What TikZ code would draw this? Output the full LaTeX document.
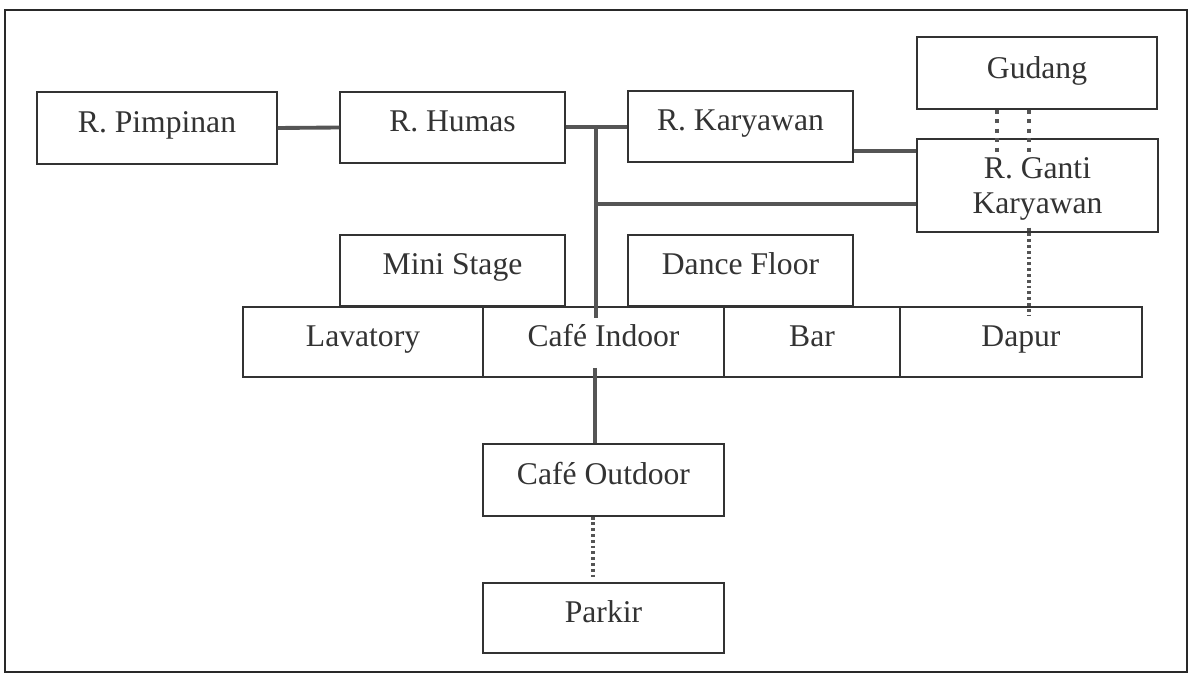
\documentclass[tikz,border=0pt]{standalone}
\usepackage{fontspec}
\setmainfont{Liberation Serif}
\usetikzlibrary{calc}
\definecolor{ink}{HTML}{333333}
\definecolor{conncol}{HTML}{555555}
\tikzset{
  room/.style={draw=ink, line width=0.8pt, text=ink, inner sep=0pt, align=center,
    font=\fontsize{18}{19.8}\selectfont, text height=10pt, text depth=5pt},
  tworoom/.style={draw=ink, line width=0.8pt, text=ink, inner sep=0pt, align=center,
    font=\fontsize{18}{19.8}\selectfont},
  conn/.style={draw=conncol, line width=2.2pt},
  dotconn/.style={draw=conncol, line width=2.2pt, dash pattern=on 2.2pt off 3.2pt},
  dotfine/.style={draw=conncol, line width=1.9pt, dash pattern=on 1.6pt off 1.7pt},
}
\begin{document}
\begin{tikzpicture}[x=0.02cm,y=-0.02cm]
\useasboundingbox (0,0) rectangle (1194,675);
\fill[white] (0,0) rectangle (1194,675);
\draw[draw=ink!80!black, line width=1.4pt] (5,10) rectangle (1187,672);

% rooms
\node[room, minimum width=4.80cm, minimum height=1.44cm] (pim) at (157,128) {R. Pimpinan};
\node[room, minimum width=4.50cm, minimum height=1.42cm] (humas) at (452.5,127.5) {R. Humas};
\node[room, minimum width=4.50cm, minimum height=1.42cm] (kary) at (740.5,126.5) {R. Karyawan};
\node[room, minimum width=4.80cm, minimum height=1.44cm, text height=12pt, text depth=5.2pt] (gudang) at (1037,73) {Gudang};
\node[tworoom, minimum width=4.82cm, minimum height=1.86cm] (ganti) at (1037.5,185.5) {\rule{0pt}{16pt}R. Ganti\\Karyawan};
\node[room, minimum width=4.50cm, minimum height=1.42cm] (mini) at (452.5,270.5) {Mini Stage};
\node[room, minimum width=4.50cm, minimum height=1.42cm] (dance) at (740.5,270.5) {Dance Floor};
\node[room, minimum width=4.80cm, minimum height=1.40cm] (lav) at (363,342) {Lavatory};
\node[room, minimum width=4.82cm, minimum height=1.40cm] (indoor) at (603.5,342) {Café Indoor};
\node[room, minimum width=3.52cm, minimum height=1.40cm] (bar) at (812,342) {Bar};
\node[room, minimum width=4.84cm, minimum height=1.40cm] (dapur) at (1021,342) {Dapur};
\node[room, minimum width=4.82cm, minimum height=1.44cm] (outdoor) at (603.5,480) {Café Outdoor};
\node[room, minimum width=4.82cm, minimum height=1.40cm] (parkir) at (603.5,618) {Parkir};

% junction coordinates
\coordinate (j1) at (596,127);
\coordinate (j2) at (596,204);
\coordinate (trunkend) at (596,318);
\coordinate (lowstart) at (595,368);
\coordinate (kg) at (0,151);

% solid connectors
\draw[conn] (pim.east) -- (humas.west);
\draw[conn] (humas.east |- j1) -- (kary.west |- j1);
\draw[conn] (j1) -- (trunkend);
\draw[conn] (j2) -- (ganti.west |- j2);
\draw[conn] (kary.east |- kg) -- (ganti.west |- kg);
\draw[conn] (lowstart) -- (outdoor.north -| lowstart);

% dotted connectors
\draw[dotconn, shorten >=-0.28cm] (gudang.south -| 997,0) -- (ganti.north -| 997,0);
\draw[dotconn, shorten >=-0.28cm] (gudang.south -| 1029,0) -- (ganti.north -| 1029,0);
\draw[dotfine, shorten <=-0.1cm, shorten >=-0.18cm] (ganti.south -| 1029,0) -- (dapur.north -| 1029,0);
\draw[dotfine, line width=2.2pt, shorten >=0.06cm] (outdoor.south -| 593,0) -- (parkir.north -| 593,0);
\end{tikzpicture}
\end{document}
